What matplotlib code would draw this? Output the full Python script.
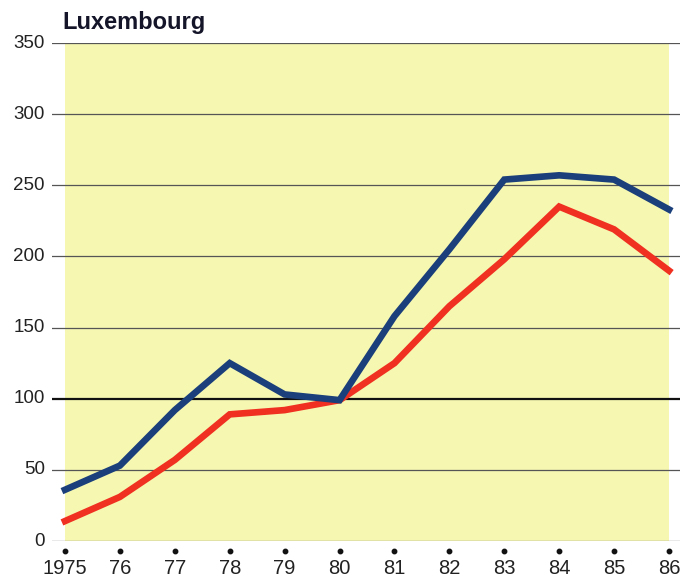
import matplotlib
matplotlib.use("Agg")
import matplotlib.pyplot as plt

plt.rcParams['font.family'] = ['Liberation Sans', 'DejaVu Sans']

years = [1975, 1976, 1977, 1978, 1979, 1980, 1981, 1982, 1983, 1984, 1985, 1986]
year_labels = ['1975', '76', '77', '78', '79', '80', '81', '82', '83', '84', '85', '86']
blue_series = [36, 53, 92, 125, 103, 99, 158, 205, 254, 257, 254, 233]
red_series = [14, 31, 57, 89, 92, 99, 125, 165, 198, 235, 219, 190]
y_ticks = [0, 50, 100, 150, 200, 250, 300, 350]

W, H = 680, 578
fig = plt.figure(figsize=(W / 100, H / 100), dpi=100)
fig.patch.set_facecolor('white')

# axes spans the gridline extent: x 52..680 px, y 43..541 px
left_px, right_px, top_px, bot_px = 52, 680, 43, 541
ax = fig.add_axes([left_px / W, 1 - bot_px / H, (right_px - left_px) / W, (bot_px - top_px) / H])
ppy = (669 - 65) / 11.0
x0 = 1975 - (65 - left_px) / ppy
x1 = 1986 + (right_px - 669) / ppy
ax.set_xlim(x0, x1)
ax.set_ylim(0, 350)
ax.set_facecolor('none')
ax.axvspan(1975, 1986, color='#f6f8b2', zorder=0, lw=0)

for v in y_ticks:
    if v == 100:
        ax.axhline(v, color='#111111', lw=1.6, zorder=1)
    else:
        ax.axhline(v, color='#555555', lw=0.9, zorder=1)

ax.plot(years, red_series, color='#f03020', lw=4.8, solid_joinstyle='miter', zorder=3)
ax.plot(years, blue_series, color='#1b3f7a', lw=4.8, solid_joinstyle='miter', zorder=4)

for s in ax.spines.values():
    s.set_visible(False)
ax.set_xticks([])
ax.set_yticks([])

# y labels
for v in y_ticks:
    ax.text(x0 - 0.13, v, str(v), ha='right', va='center', fontsize=13.5, color='#222222',
            clip_on=False)

# year dots and labels
for yr, lab in zip(years, year_labels):
    ax.plot([yr], [-7], marker='o', ms=3.2, color='#111111', clip_on=False, zorder=5)
    ax.text(yr, -19.5, lab, ha='center', va='center', fontsize=14.5, color='#222222', clip_on=False)

fig.text(62 / W, 1 - 23 / H, 'Luxembourg', ha='left', va='center', fontsize=17,
         fontweight='bold', color='#15152a')

fig.savefig('out.png', dpi=100, facecolor='white')
